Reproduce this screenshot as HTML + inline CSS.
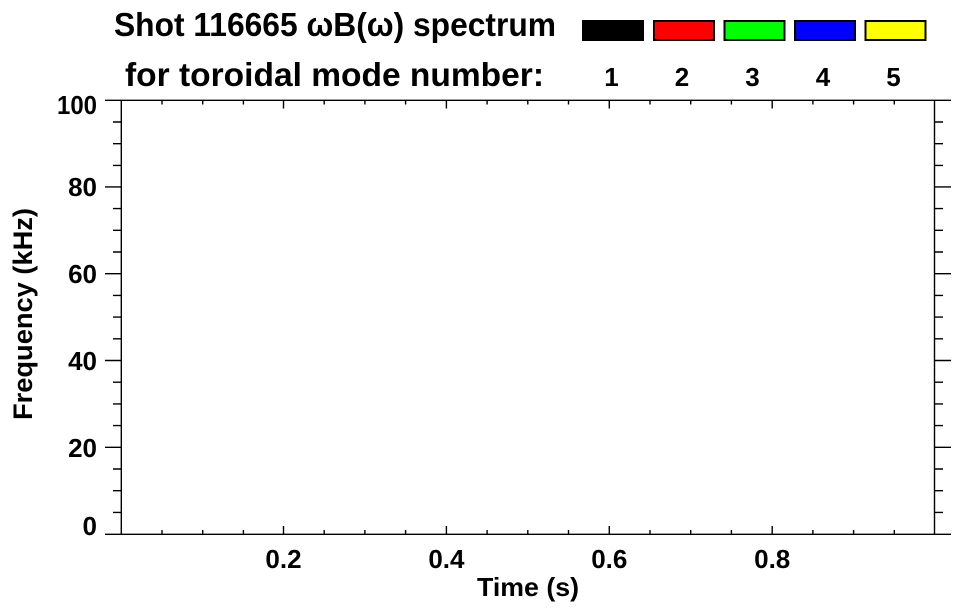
<!DOCTYPE html>
<html>
<head>
<meta charset="utf-8">
<style>
html,body{margin:0;padding:0;background:#fff;}
svg{display:block;}
text{font-family:"Liberation Sans",Arial,Helvetica,sans-serif;font-weight:bold;fill:#000;}
</style>
</head>
<body>
<svg width="963" height="615" viewBox="0 0 963 615" xmlns="http://www.w3.org/2000/svg">
<rect width="963" height="615" fill="#fff"/>
<!-- Title -->
<text x="114" y="36" font-size="33" textLength="442" lengthAdjust="spacingAndGlyphs">Shot 116665 ωB(ω) spectrum</text>
<text x="125" y="86" font-size="33" textLength="419" lengthAdjust="spacingAndGlyphs">for toroidal mode number:</text>
<!-- Legend swatches -->
<rect x="582" y="20" width="62" height="21" fill="#000"/>
<rect x="654" y="21" width="60" height="19" fill="#ff0000" stroke="#000" stroke-width="2"/>
<rect x="724.5" y="21" width="60" height="19" fill="#00ff00" stroke="#000" stroke-width="2"/>
<rect x="795" y="21" width="60" height="19" fill="#0000ff" stroke="#000" stroke-width="2"/>
<rect x="865.5" y="21" width="60" height="19" fill="#ffff00" stroke="#000" stroke-width="2"/>
<g font-size="26" text-anchor="middle">
<text x="611.5" y="86">1</text>
<text x="682" y="86">2</text>
<text x="752.5" y="86">3</text>
<text x="823" y="86">4</text>
<text x="893.5" y="86">5</text>
</g>
<!-- Axes -->
<g stroke="#000" stroke-width="1.4" fill="none">
<line x1="105" y1="100.3" x2="951" y2="100.3"/>
<line x1="105" y1="534.3" x2="951" y2="534.3"/>
<line x1="121.3" y1="100.3" x2="121.3" y2="534.3"/>
<line x1="934.5" y1="100.3" x2="934.5" y2="534.3"/>
<path d="M105 186.9H121.3M105 273.7H121.3M105 360.5H121.3M105 447.3H121.3
M934.5 186.9H951M934.5 273.7H951M934.5 360.5H951M934.5 447.3H951"/>
<path d="M113 122H121.3M113 143.7H121.3M113 165.4H121.3
M113 208.6H121.3M113 230.3H121.3M113 252H121.3
M113 295.4H121.3M113 317.1H121.3M113 338.8H121.3
M113 382.2H121.3M113 403.9H121.3M113 425.6H121.3
M113 469H121.3M113 490.7H121.3M113 512.4H121.3
M934.5 122H943M934.5 143.7H943M934.5 165.4H943
M934.5 208.6H943M934.5 230.3H943M934.5 252H943
M934.5 295.4H943M934.5 317.1H943M934.5 338.8H943
M934.5 382.2H943M934.5 403.9H943M934.5 425.6H943
M934.5 469H943M934.5 490.7H943M934.5 512.4H943"/>
<path d="M283.5 100.3V108.5M446.4 100.3V108.5M609.3 100.3V108.5M772.2 100.3V108.5
M283.5 534.3V526M446.4 534.3V526M609.3 534.3V526M772.2 534.3V526"/>
<path d="M162 100.3V104.5M202.7 100.3V104.5M243.4 100.3V104.5
M324.2 100.3V104.5M364.9 100.3V104.5M405.6 100.3V104.5
M487.1 100.3V104.5M527.8 100.3V104.5M568.5 100.3V104.5
M650 100.3V104.5M690.7 100.3V104.5M731.4 100.3V104.5
M812.9 100.3V104.5M853.6 100.3V104.5M894.3 100.3V104.5
M162 534.3V530M202.7 534.3V530M243.4 534.3V530
M324.2 534.3V530M364.9 534.3V530M405.6 534.3V530
M487.1 534.3V530M527.8 534.3V530M568.5 534.3V530
M650 534.3V530M690.7 534.3V530M731.4 534.3V530
M812.9 534.3V530M853.6 534.3V530M894.3 534.3V530"/>
</g>
<!-- Y tick labels -->
<g font-size="26" text-anchor="end">
<text x="97" y="114" textLength="40" lengthAdjust="spacingAndGlyphs">100</text>
<text x="97" y="196">80</text>
<text x="97" y="283">60</text>
<text x="97" y="370">40</text>
<text x="97" y="457">20</text>
<text x="97" y="535">0</text>
</g>
<!-- X tick labels -->
<g font-size="26" text-anchor="middle">
<text x="283.5" y="568">0.2</text>
<text x="446.4" y="568">0.4</text>
<text x="609.3" y="568">0.6</text>
<text x="772.2" y="568">0.8</text>
</g>
<!-- Axis titles -->
<text x="528" y="596" font-size="26" text-anchor="middle" textLength="102" lengthAdjust="spacingAndGlyphs">Time (s)</text>
<text transform="translate(32,314) rotate(-90)" font-size="27" text-anchor="middle" textLength="212" lengthAdjust="spacingAndGlyphs">Frequency (kHz)</text>
</svg>
</body>
</html>
